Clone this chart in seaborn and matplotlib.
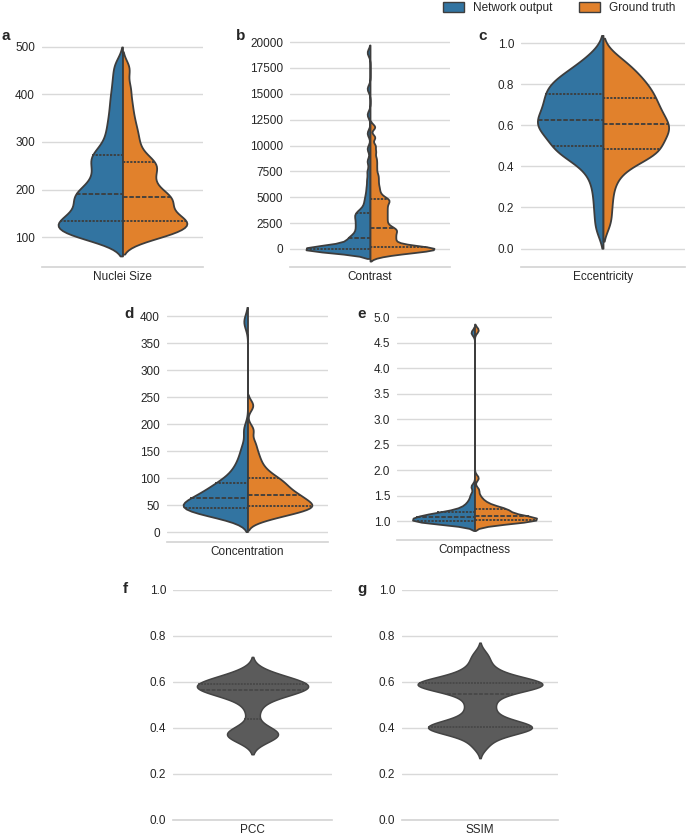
import matplotlib
matplotlib.use("Agg")
import matplotlib.pyplot as plt
import pandas as pd
import seaborn as sns
from matplotlib.patches import Patch
from matplotlib.ticker import MultipleLocator

GROUPS = ["Network output", "Ground truth"]
COLORS = ["#3274a1", "#e1812c"]
GRAY = "#5b5b5b"
EDGE = "#3d3d3d"

# samples (quartiles matched to the dashed lines)
nuclei_net = [98, 100, 104, 108, 112, 117, 121, 125, 129, 132,
              134, 140, 146, 152, 158, 165, 172, 178, 184, 189,
              191, 198, 206, 215, 224, 234, 244, 254, 263, 271,
              276, 290, 305, 322, 340, 360, 382, 405, 432, 462]
nuclei_gt = [99, 102, 106, 110, 115, 120, 124, 128, 131, 132,
             134, 139, 145, 151, 157, 163, 169, 175, 180, 183,
             185, 192, 200, 208, 216, 225, 234, 242, 250, 256,
             260, 272, 286, 302, 318, 336, 358, 384, 415, 455]

contrast_net = [-200, -150, -120, -90, -70, -50, -35, -20, -10, -5,
                0, 0, 0, 0, 0, 0, 5, 10, 20, 35,
                50, 80, 250, 400, 550, 700, 820, 920, 1000, 1080,
                1120, 1290, 1460, 1630, 1800, 1970, 2140, 2310, 2480, 2650,
                2820, 2990, 3160, 3330, 3490, 3530, 3800, 4100, 4500, 4900,
                5400, 6000, 6700, 7500, 8500, 9700, 11200, 13000, 15500, 19000]
contrast_gt = [-600, -480, -380, -290, -210, -140, -80, -30, 0, 0,
               10, 30, 60, 100, 150, 210, 280, 400, 550, 700,
               820, 950, 1080, 1210, 1340, 1470, 1600, 1750, 1870, 1950,
               2050, 2245, 2440, 2635, 2830, 3025, 3220, 3415, 3610, 3805,
               4000, 4195, 4390, 4585, 4780, 4820, 5100, 5400, 5750, 6100,
               6500, 6900, 7300, 7800, 8300, 8800, 9400, 10000, 10800, 11800]

ecc_net = [0.10, 0.19, 0.27, 0.34, 0.39, 0.43, 0.45, 0.47, 0.48, 0.49,
           0.50, 0.52, 0.54, 0.56, 0.57, 0.58, 0.59, 0.60, 0.61, 0.62,
           0.63, 0.64, 0.66, 0.67, 0.68, 0.70, 0.71, 0.72, 0.74, 0.75,
           0.76, 0.78, 0.79, 0.80, 0.82, 0.83, 0.85, 0.87, 0.90, 0.94]
ecc_gt = [0.13, 0.22, 0.30, 0.36, 0.40, 0.43, 0.45, 0.46, 0.47, 0.475,
          0.485, 0.50, 0.52, 0.54, 0.55, 0.56, 0.57, 0.58, 0.59, 0.60,
          0.61, 0.62, 0.64, 0.65, 0.66, 0.68, 0.69, 0.70, 0.72, 0.73,
          0.75, 0.76, 0.78, 0.79, 0.81, 0.83, 0.85, 0.87, 0.90, 0.93]

conc_net = [28, 31, 34, 36, 38, 40, 41, 42, 43, 44,
            45, 47, 49, 51, 53, 55, 57, 59, 61, 62,
            64, 66, 69, 72, 75, 78, 81, 84, 87, 90,
            94, 99, 105, 112, 120, 130, 143, 160, 190, 390]
conc_gt = [24, 28, 32, 35, 38, 41, 43, 44.5, 46, 47,
           48, 50, 52, 55, 57, 59, 61, 64, 66, 68,
           70, 73, 76, 79, 82, 85, 89, 92, 95, 99,
           103, 108, 114, 121, 130, 140, 152, 167, 190, 235]

compact_net = [0.93, 0.95, 0.96, 0.97, 0.98, 0.985, 0.99, 0.99, 0.995, 1.0,
               1.0, 1.01, 1.02, 1.03, 1.04, 1.05, 1.06, 1.07, 1.075, 1.08,
               1.08, 1.09, 1.10, 1.11, 1.12, 1.13, 1.14, 1.15, 1.16, 1.17,
               1.18, 1.20, 1.23, 1.26, 1.30, 1.35, 1.42, 1.52, 1.68, 4.70]
compact_gt = [0.93, 0.96, 0.97, 0.98, 0.99, 1.0, 1.0, 1.01, 1.015, 1.02,
              1.02, 1.03, 1.04, 1.05, 1.06, 1.07, 1.08, 1.09, 1.095, 1.10,
              1.10, 1.11, 1.13, 1.15, 1.17, 1.19, 1.21, 1.22, 1.23, 1.24,
              1.25, 1.27, 1.30, 1.33, 1.37, 1.42, 1.50, 1.62, 1.85, 4.75]

pcc = [0.35, 0.36, 0.365, 0.37, 0.37, 0.375, 0.375, 0.38, 0.385, 0.40,
       0.453, 0.48, 0.51, 0.53, 0.54, 0.55, 0.555, 0.56, 0.562, 0.565,
       0.565, 0.568, 0.572, 0.575, 0.578, 0.58, 0.583, 0.586, 0.588, 0.59,
       0.59, 0.595, 0.60, 0.605, 0.61, 0.615, 0.62, 0.625, 0.635, 0.645]
ssim = [0.32, 0.35, 0.37, 0.38, 0.39, 0.395, 0.40, 0.40, 0.403, 0.405,
        0.407, 0.41, 0.42, 0.43, 0.44, 0.46, 0.48, 0.50, 0.52, 0.54,
        0.555, 0.565, 0.57, 0.575, 0.58, 0.585, 0.585, 0.59, 0.59, 0.595,
        0.60, 0.60, 0.605, 0.61, 0.62, 0.63, 0.645, 0.66, 0.69, 0.72]

W, H = 689, 836


def add_axes(fig, x0, x1, y0, y1):
    return fig.add_axes([x0 / W, (H - y1) / H, (x1 - x0) / W, (y1 - y0) / H])


def style_axes(ax, step, ylim):
    ax.set_xlabel("")
    ax.set_ylabel("")
    ax.set_ylim(*ylim)
    ax.yaxis.set_major_locator(MultipleLocator(step))
    ax.tick_params(axis="y", labelsize=8.5, length=0, pad=5)
    ax.tick_params(axis="x", labelsize=8.5, length=0, pad=3)
    sns.despine(ax=ax, left=True)
    ax.spines["bottom"].set_color("#d5d5d5")
    ax.grid(axis="y", color="#d9d9d9", linewidth=1)
    ax.grid(axis="x", visible=False)


def draw_split(ax, name, net, gt, bw, cut, step, ylim):
    frame = pd.DataFrame({
        "metric": name,
        "value": net + gt,
        "source": [GROUPS[0]] * len(net) + [GROUPS[1]] * len(gt),
    })
    sns.violinplot(data=frame, x="metric", y="value", hue="source",
                   hue_order=GROUPS, split=True, inner="quart",
                   palette=COLORS, saturation=1, bw_adjust=bw, cut=cut,
                   linewidth=1.3, linecolor=EDGE, legend=False, ax=ax)
    style_axes(ax, step, ylim)


def draw_single(ax, name, values, bw, width):
    frame = pd.DataFrame({"metric": name, "value": values})
    sns.violinplot(data=frame, x="metric", y="value", inner="quart",
                   color=GRAY, saturation=1, bw_adjust=bw, width=width,
                   linewidth=1.1, linecolor="#444444", ax=ax)
    style_axes(ax, 0.2, (0, 1.0))


sns.set_theme(style="whitegrid")
plt.rcParams["font.family"] = ["Liberation Sans", "DejaVu Sans"]

fig = plt.figure(figsize=(W / 100, H / 100), dpi=100)

ax_a = add_axes(fig, 42, 203, 35, 267)
draw_split(ax_a, "Nuclei Size", nuclei_net, nuclei_gt, 0.4, 2, 100, (37, 525))
ax_b = add_axes(fig, 290, 450, 35, 267)
draw_split(ax_b, "Contrast", contrast_net, contrast_gt, 0.2, 2, 2500, (-1740, 20680))
ax_c = add_axes(fig, 521, 685, 35, 267)
draw_split(ax_c, "Eccentricity", ecc_net, ecc_gt, 0.6, 1.8, 0.2, (-0.09, 1.04))
ax_d = add_axes(fig, 167, 328, 307, 542)
draw_split(ax_d, "Concentration", conc_net, conc_gt, 0.45, 2, 50, (-18, 417))
ax_e = add_axes(fig, 397, 552, 307, 540)
draw_split(ax_e, "Compactness", compact_net, compact_gt, 0.2, 2, 0.5, (0.63, 5.2))
ax_f = add_axes(fig, 173, 332, 590, 820)
draw_single(ax_f, "PCC", pcc, 0.7, 0.7)
ax_g = add_axes(fig, 402, 558, 590, 820)
draw_single(ax_g, "SSIM", ssim, 0.5, 0.8)

for letter, x, y in [("a", 2, 40), ("b", 236, 40), ("c", 478, 40),
                     ("d", 124, 318), ("e", 357, 318),
                     ("f", 123, 593), ("g", 357, 593)]:
    fig.text(x / W, (H - y) / H, letter, fontsize=11, fontweight="bold",
             ha="left", va="baseline")

handles = [Patch(facecolor=c, edgecolor=EDGE, linewidth=1) for c in COLORS]
fig.legend(handles, GROUPS, loc="upper right", bbox_to_anchor=(0.995, 1.010),
           ncol=2, frameon=False, fontsize=8.5, handlelength=1.8,
           handleheight=0.9, columnspacing=2.3, handletextpad=0.7)

fig.savefig("out.png", dpi=100)
